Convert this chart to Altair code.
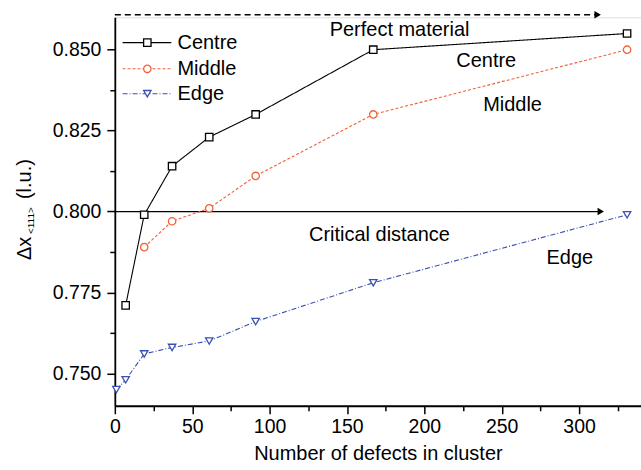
import altair as alt
import pandas as pd

# ---- data ----
series_names = ["Centre", "Middle", "Edge"]
centre_x = [7, 19, 37, 61, 91, 167, 331]
centre_y = [0.771, 0.799, 0.814, 0.823, 0.830, 0.850, 0.855]
middle_x = [19, 37, 61, 91, 167, 331]
middle_y = [0.789, 0.797, 0.801, 0.811, 0.830, 0.850]
edge_x = [1, 7, 19, 37, 61, 91, 167, 331]
edge_y = [0.745, 0.748, 0.756, 0.758, 0.760, 0.766, 0.778, 0.799]

# annotation texts (data coordinates)
note_text = ["Perfect material", "Centre", "Middle", "Critical distance", "Edge"]
note_x = [184, 240, 257, 171, 294]
note_y = [0.8562, 0.8466, 0.8328, 0.7928, 0.7856]

# arrows: start x, end x, y
arrow_name = ["perfect", "critical"]
arrow_x0 = [0, 0]
arrow_x1 = [312, 314]
arrow_y = [0.8608, 0.800]

# legend rows (data coordinates)
legend_y = [0.8522, 0.8441, 0.8364]
legend_x0, legend_x1, legend_mx, legend_tx = 5, 36.5, 21, 40.5

colors = ["#000000", "#F0623A", "#3A50B2"]
shapes = ["square", "circle", "triangle-down"]
dashes = [[1, 0], [3, 2], [5, 2, 1, 2]]
arrow_dashes = [[6, 4], [1, 0]]

FONT = "Liberation Sans"
FS = 20

rows = []
for name, xs_, ys_ in [("Centre", centre_x, centre_y), ("Middle", middle_x, middle_y), ("Edge", edge_x, edge_y)]:
    for a, b in zip(xs_, ys_):
        rows.append({"series": name, "x": a, "y": b})
df = pd.DataFrame(rows)

notes = pd.DataFrame({"text": note_text, "x": note_x, "y": note_y})
arrows = pd.DataFrame({"series": arrow_name, "x": arrow_x0, "x2": arrow_x1, "y": arrow_y})
legend = pd.DataFrame({"series": series_names, "y": legend_y,
                       "x": [legend_x0] * 3, "x2": [legend_x1] * 3,
                       "mx": [legend_mx] * 3, "tx": [legend_tx] * 3})

color_scale = alt.Scale(domain=series_names, range=colors)
shape_scale = alt.Scale(domain=series_names, range=shapes)
dash_scale = alt.Scale(domain=series_names + arrow_name, range=dashes + arrow_dashes)

xs = alt.Scale(domain=[0, 340], nice=False, zero=False)
ys = alt.Scale(domain=[0.740, 0.860], nice=False, zero=False)

xaxis = alt.Axis(
    values=list(range(0, 341, 25)),
    labelExpr="datum.value % 50 == 0 ? datum.label : ''",
    tickSize={"condition": {"test": "datum.value % 50 == 0", "value": 8}, "value": 5},
    title="Number of defects in cluster",
    titleFont=FONT, titleFontSize=FS, titleFontWeight="normal", titleColor="black",
    titlePadding=7,
    labelFont=FONT, labelFontSize=FS - 0.5, labelColor="black", labelPadding=4,
    grid=False, domainColor="black", domainWidth=1.8, tickColor="black", tickWidth=1.5,
    labelFlush=False, labelOverlap=False,
)
yvals = [0.750, 0.7625, 0.775, 0.7875, 0.800, 0.8125, 0.825, 0.8375, 0.850]
yaxis = alt.Axis(
    values=yvals,
    labelExpr="round(datum.value*1000) % 25 == 0 ? format(datum.value, '.3f') : ''",
    tickSize={"condition": {"test": "round(datum.value*1000) % 25 == 0", "value": 8}, "value": 5},
    title=None,
    labelFont=FONT, labelFontSize=FS - 0.5, labelColor="black", labelPadding=6,
    grid=False, domainColor="black", domainWidth=1.8, tickColor="black", tickWidth=1.5,
    labelFlush=False, labelOverlap=False,
)

X = alt.X("x:Q", scale=xs, axis=xaxis)
Y = alt.Y("y:Q", scale=ys, axis=yaxis)
X2 = alt.X2("x2:Q")
DASH = alt.StrokeDash("series:N", scale=dash_scale, legend=None)
STROKE = alt.Stroke("series:N", scale=color_scale, legend=None)
SHAPE = alt.Shape("series:N", scale=shape_scale, legend=None)

base = alt.Chart(df)
lines = base.mark_line(strokeWidth=1.1).encode(
    x=X, y=Y, stroke=STROKE, strokeDash=DASH, detail="series:N", order="x:Q",
)
points = base.mark_point(filled=True, fill="white", fillOpacity=1, opacity=1, size=55, strokeWidth=1.3).encode(
    x=X, y=Y, stroke=STROKE, shape=SHAPE,
)

arrow_lines = alt.Chart(arrows).mark_rule(color="black", strokeWidth=1.3).encode(
    x=X, x2=X2, y=Y, strokeDash=DASH,
)
arrow_heads = alt.Chart(arrows).mark_point(shape="triangle-right", filled=True, color="black", size=55, opacity=1).encode(
    x=alt.X("x2:Q", scale=xs, axis=xaxis), y=Y,
)

note_layer = alt.Chart(notes).mark_text(font=FONT, fontSize=FS, color="black", align="center", baseline="middle").encode(
    x=X, y=Y, text="text:N"
)

leg_lines = alt.Chart(legend).mark_rule(strokeWidth=1.1).encode(
    x=X, x2=X2, y=Y, stroke=STROKE, strokeDash=DASH,
)
leg_points = alt.Chart(legend).mark_point(filled=True, fill="white", fillOpacity=1, opacity=1, size=55, strokeWidth=1.3).encode(
    x=alt.X("mx:Q", scale=xs, axis=xaxis), y=Y, stroke=STROKE, shape=SHAPE,
)
leg_text = alt.Chart(legend).mark_text(font=FONT, fontSize=FS, color="black", align="left", baseline="middle").encode(
    x=alt.X("tx:Q", scale=xs, axis=xaxis), y=Y, text="series:N"
)

one = pd.DataFrame({"k": [0]})
yt1 = alt.Chart(one).mark_text(text="Δx", font=FONT, fontSize=FS, angle=270, align="left",
                               baseline="alphabetic", color="black", x=-84, y=243)
yt2 = alt.Chart(one).mark_text(text="<111>", font=FONT, fontSize=10, angle=270, align="left",
                               baseline="alphabetic", color="black", x=-81, y=217)
yt3 = alt.Chart(one).mark_text(text="(l.u.)", font=FONT, fontSize=FS, angle=270, align="left",
                               baseline="alphabetic", color="black", x=-84, y=182)

chart = alt.layer(
    arrow_lines, arrow_heads, lines, points, note_layer,
    leg_lines, leg_points, leg_text, yt1, yt2, yt3,
).properties(
    width=527, height=389,
    autosize=alt.AutoSizeParams(type="none"),
    padding={"left": 115, "top": 17, "right": 0, "bottom": 64},
).configure_view(stroke=None).configure(background="white")

chart.save("out.html", embed_options={"renderer": "svg", "actions": False})
